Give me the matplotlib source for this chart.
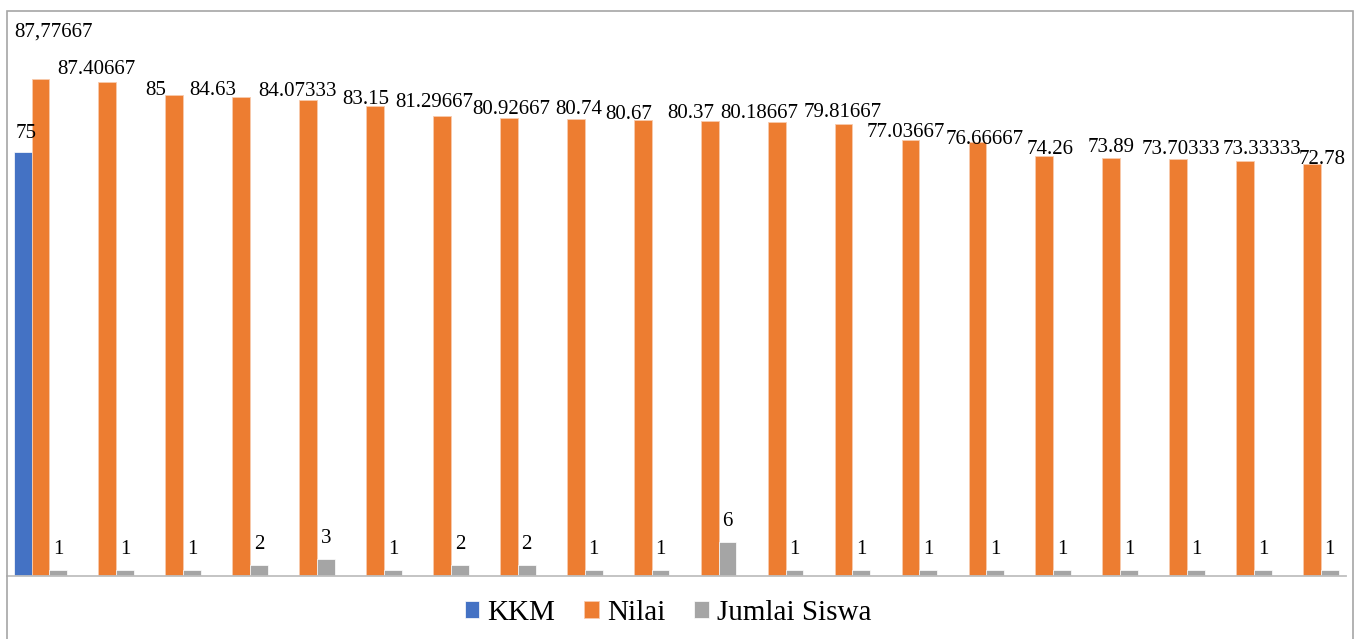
import numpy as np
import matplotlib.pyplot as plt
from matplotlib.patches import Rectangle

plt.rcParams['font.family'] = ['Liberation Serif', 'DejaVu Serif']

# series values
kkm = [75] + [np.nan] * 19
nilai = [87.77667, 87.40667, 85, 84.63, 84.07333, 83.15, 81.29667, 80.92667,
         80.74, 80.67, 80.37, 80.18667, 79.81667, 77.03667, 76.66667, 74.26,
         73.89, 73.70333, 73.33333, 72.78]
jumlah_siswa = [1, 1, 1, 2, 3, 1, 2, 2, 1, 1, 6, 1, 1, 1, 1, 1, 1, 1, 1, 1]
series_names = ['KKM', 'Nilai', 'Jumlai Siswa']

# hand-placed label nudges (pixels) for the Nilai labels
label_shift = [(13.5, 43), (-11, 8), (-19, 0), (-28, 2), (-11, 4), (-9, 2),
               (-8, 9), (2, 4), (3, 5), (-14, 1), (-18.5, 3), (-17, 4),
               (-1, 7), (-5, 3), (7, -2), (6, 2), (0, 6), (3, 5), (17, 7),
               (10, 0)]

colors = ['#4472C4', '#ED7D31', '#A5A5A5']
W, H = 1358, 639
fig = plt.figure(figsize=(W / 100, H / 100), dpi=100)
ax = fig.add_axes([7 / W, 1 - 576 / H, 1338.5 / W, 565.7 / H])

x = np.arange(len(nilai))
w = 0.266
b1 = ax.bar(x - w, kkm, w, color=colors[0], edgecolor='white', linewidth=0.5, label=series_names[0])
b2 = ax.bar(x, nilai, w, color=colors[1], edgecolor='#F8CBAD', linewidth=0.6, label=series_names[1])
b3 = ax.bar(x + w, jumlah_siswa, w, color=colors[2], edgecolor='white', linewidth=0.5, label=series_names[2])

fs = 15
ax.annotate(f"{kkm[0]}", (x[0] - w, kkm[0]), xytext=(3, 14), textcoords='offset pixels',
            ha='center', va='baseline', fontsize=fs)
for i, v in enumerate(nilai):
    txt = str(v)
    if i == 0:
        txt = txt.replace('.', ',')
    dx, dy = label_shift[i]
    ax.annotate(txt, (x[i], v), xytext=(dx, dy), textcoords='offset pixels',
                ha='center', va='baseline', fontsize=fs)
for i, v in enumerate(jumlah_siswa):
    ax.annotate(str(v), (x[i] + w, v), xytext=(0, 16), textcoords='offset pixels',
                ha='center', va='baseline', fontsize=fs)

ax.set_xlim(-0.5, len(nilai) - 0.5)
ax.set_ylim(0, 100)
for s in ['top', 'right', 'left']:
    ax.spines[s].set_visible(False)
ax.spines['bottom'].set_color('#BFBFBF')
ax.spines['bottom'].set_linewidth(1.3)
ax.set_xticks([])
ax.set_yticks([])
ax.patch.set_alpha(0)

fig.legend(loc='center', bbox_to_anchor=(668 / W, 1 - 613 / H), ncol=3, frameon=False,
           fontsize=21, handlelength=0.5, handleheight=0.5, handletextpad=0.27,
           columnspacing=1.0)

# chart border
fig.patches.append(Rectangle((7 / W, -0.02), 1346 / W, 1.02 - 11 / H, transform=fig.transFigure,
                             fill=False, edgecolor='#A6A6A6', linewidth=1.2))

fig.savefig('out.png', dpi=100)
